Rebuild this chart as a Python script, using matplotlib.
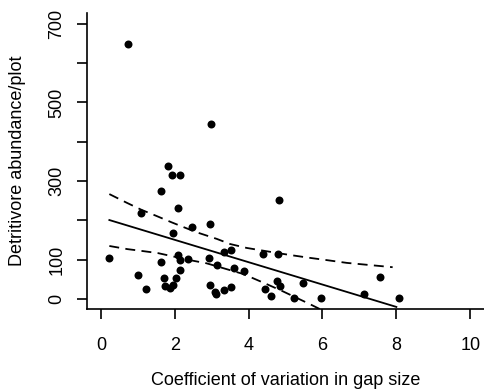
import matplotlib
matplotlib.use("Agg")
import matplotlib.pyplot as plt

plt.rcParams['font.family'] = ['Liberation Sans', 'DejaVu Sans']

# data
cv = [0.23, 1.01, 1.21, 1.09, 1.63, 1.82, 1.92, 2.13, 2.10, 1.95, 1.63, 1.71,
      1.74, 1.87, 1.94, 2.03, 2.13, 2.08, 2.14, 2.35, 2.47, 2.96, 2.93, 3.14,
      2.95, 3.13, 3.10, 3.33, 3.33, 3.51, 3.60, 3.88, 3.52, 4.38, 4.80, 4.82,
      4.45, 4.60, 4.78, 4.86, 5.46, 7.56, 7.13, 8.06, 5.96, 5.24, 0.74, 2.98]
abund = [105, 61, 25, 220, 275, 338, 315, 316, 232, 169, 93, 54,
         34, 29, 36, 54, 74, 112, 99, 103, 183, 191, 105, 87,
         36, 13, 18, 22, 120, 125, 79, 71, 31, 114, 114, 253,
         25, 8, 47, 34, 41, 56, 13, 3, 3, 3, 649, 445]

# fitted line and band
fit_x = [0.23, 8.0]
fit_y = [201, -20]
upper_x = [0.23, 0.70, 1.10, 1.49, 1.92, 2.32, 2.59, 3.14, 3.50, 3.95, 4.85, 5.20, 5.64, 6.12, 6.66, 7.9]
upper_y = [267, 245, 227, 212, 195, 180, 170, 153, 140, 130, 116, 111, 105, 99, 92, 81]
lower_x = [0.23, 0.72, 1.14, 1.54, 2.41, 2.86, 3.81, 4.12, 4.49, 4.92, 5.66, 6.5, 8.0]
lower_y = [135, 127, 122, 117, 99, 91, 65, 53, 38, 20, -13, -52, -120]

xticks = [0, 2, 4, 6, 8, 10]
yticks = [0, 100, 200, 300, 400, 500, 600, 700]
ytick_labels = ['0', '100', '', '300', '', '500', '', '700']

fig = plt.figure(figsize=(4.85, 3.9), dpi=100)
ax = fig.add_axes([0.179, 0.208, 0.821, 0.759])

ax.scatter(cv, abund, s=33, color='black', zorder=3, linewidths=0)
ax.plot(fit_x, fit_y, color='black', lw=1.3)
ax.plot(upper_x, upper_y, color='black', lw=1.3, linestyle=(0, (5.5, 3.5)))
ax.plot(lower_x, lower_y, color='black', lw=1.3, linestyle=(0, (5.5, 3.5)))

ax.set_xlim(-0.38, 10.4)
ax.set_ylim(-25, 728)
ax.spines['top'].set_visible(False)
ax.spines['right'].set_visible(False)
ax.spines['left'].set_linewidth(1.2)
ax.spines['bottom'].set_linewidth(1.2)

ax.set_xticks(xticks)
ax.set_xticklabels([str(t) for t in xticks])
ax.set_yticks(yticks)
ax.set_yticklabels(ytick_labels, rotation=90, va='center')
ax.tick_params(axis='both', length=7.5, width=1.2, labelsize=13)
ax.tick_params(axis='x', pad=13)
ax.tick_params(axis='y', pad=8)

ax.set_xlabel('Coefficient of variation in gap size', fontsize=13, labelpad=13)
ax.set_ylabel('Detritivore abundance/plot', fontsize=13, labelpad=16)

fig.savefig('out.png', dpi=100)
